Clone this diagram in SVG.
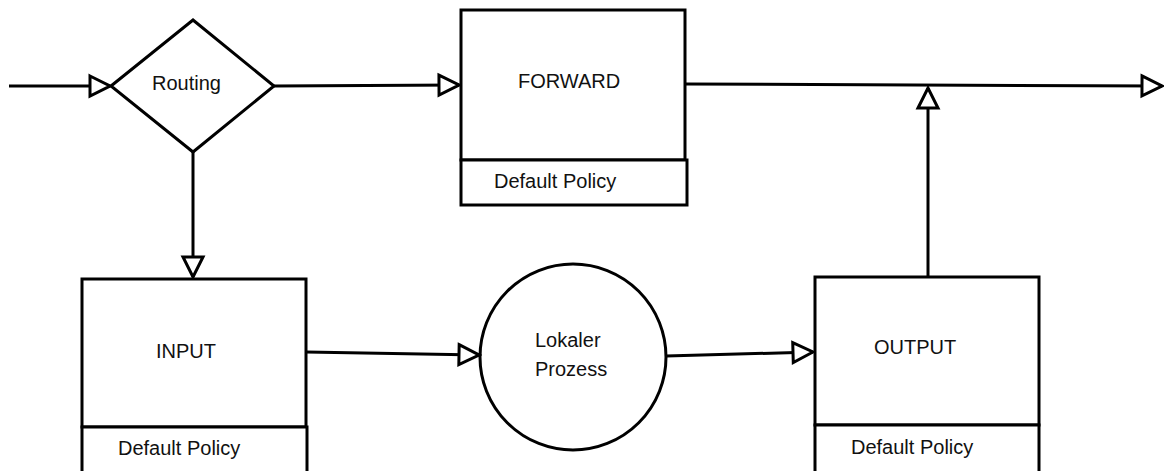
<svg xmlns="http://www.w3.org/2000/svg" width="1164" height="471" viewBox="0 0 1164 471">
<style>
.shape{fill:#fff;stroke:#000;stroke-width:3}
.conn{fill:none;stroke:#000;stroke-width:3;marker-end:url(#arr)}
text{font-family:"Liberation Sans",Arial,sans-serif;font-size:20px;fill:#111}
</style>
<defs>
<marker id="arr" markerUnits="userSpaceOnUse" viewBox="0 0 26 26" markerWidth="26" markerHeight="26" refX="23" refY="13" orient="auto">
<path d="M3,3 L23,13 L3,23 Z" fill="#fff" stroke="#000" stroke-width="3"/>
</marker>
</defs>
<rect width="1164" height="471" fill="#fff"/>
<g id="routing">
<polygon class="shape" points="111,86 193,20 274,86 193,152"/>
<text x="152" y="90">Routing</text>
</g>
<g id="forward">
<rect class="shape" x="461" y="10" width="224" height="150"/>
<rect class="shape" x="461" y="160" width="226" height="45"/>
<text x="518" y="88">FORWARD</text>
<text x="494" y="188">Default Policy</text>
</g>
<g id="input">
<rect class="shape" x="82" y="279" width="224" height="148"/>
<rect class="shape" x="82" y="427" width="225" height="60"/>
<text x="156" y="358">INPUT</text>
<text x="118" y="455">Default Policy</text>
</g>
<g id="prozess">
<circle class="shape" cx="573" cy="357" r="93"/>
<text x="535" y="347">Lokaler</text>
<text x="535" y="376">Prozess</text>
</g>
<g id="output">
<rect class="shape" x="815" y="277" width="224" height="148"/>
<rect class="shape" x="815" y="425" width="224" height="60"/>
<text x="874" y="354">OUTPUT</text>
<text x="851" y="454">Default Policy</text>
</g>
<g id="connectors">
<path class="conn" d="M9,86 L110,86"/>
<path class="conn" d="M274,86 L459,85"/>
<path class="conn" d="M193,152 L193,277"/>
<path class="conn" d="M306,352 L479,355"/>
<path class="conn" d="M666,356 L813,352"/>
<path class="conn" d="M928,277 L928,88"/>
<path class="conn" d="M685,84 L1162,86"/>
</g>
</svg>
